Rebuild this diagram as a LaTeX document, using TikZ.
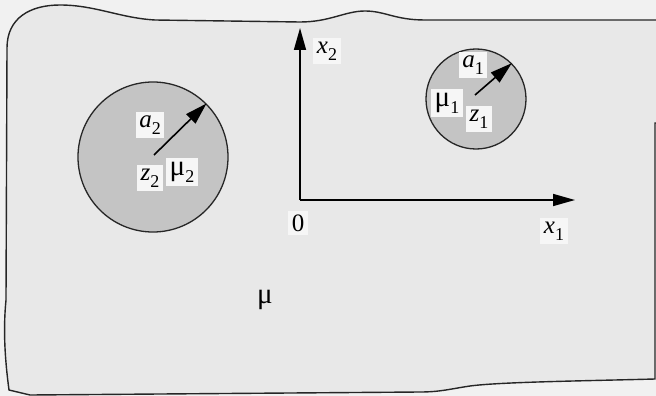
\documentclass[tikz,border=0pt]{standalone}
\usepackage{fontspec}
\setmainfont{Liberation Serif}
\usetikzlibrary{arrows.meta}
\definecolor{bgpage}{HTML}{F1F1F1}
\definecolor{bgbody}{HTML}{E8E8E8}
\definecolor{incl}{HTML}{C4C4C4}
\definecolor{labfill}{HTML}{F6F6F6}
\newcommand{\lsub}[1]{\raisebox{-0.28em}{\fontsize{18}{18}\selectfont #1}}
\newcommand{\lmu}{{\fontsize{29}{29}\selectfont μ}}
\tikzset{
  txt/.style={font=\fontsize{25}{27}\selectfont},
  lab/.style={txt, fill=labfill, inner sep=3.5pt},
  radius arrow/.style={line width=1.6pt, -{Triangle[length=22pt,width=13pt]}},
  axis arrow/.style={line width=1.6pt, -{Triangle[length=22pt,width=12pt]}},
  outline/.style={line width=1.4pt, draw=black!85},
  incl circle/.style={circle, draw=black!85, line width=1.3pt, fill=incl, inner sep=0pt},
}
\begin{document}
\begin{tikzpicture}[x=1pt,y=-1pt]
\useasboundingbox (0,0) rectangle (656,396);
\fill[bgpage] (0,0) rectangle (656,396);
% body outline
\path[outline, fill=bgbody]
  (7,48) .. controls (7,18) and (30,5) .. (60,5)
  .. controls (95,5) and (120,18) .. (155,20)
  -- (300,22)
  .. controls (330,22) and (345,11) .. (365,11)
  .. controls (385,11) and (395,20) .. (425,20)
  -- (700,20) -- (700,123) -- (655,123)
  -- (655,379)
  .. controls (580,381) and (500,382) .. (470,386)
  .. controls (450,389) and (440,392) .. (420,392)
  -- (30,395) -- (9,390)
  .. controls (5,360) and (3,330) .. (6,300)
  -- (7,48) -- cycle;
% inclusions
\node[incl circle, minimum size=150pt] (c2) at (153,157) {};
\node[incl circle, minimum size=100pt] (c1) at (476,99) {};
\coordinate (z2) at (154,155);
\coordinate (z1) at (475,95);
\draw[radius arrow] (z2) -- (c2.45);
\draw[radius arrow] (z1) -- (c1.45);
% axes
\coordinate (O) at (300,200);
\coordinate (X1) at (575,200);
\coordinate (X2) at (300,28);
\draw[axis arrow] (O) -- (X1);
\draw[axis arrow] (O) -- (X2);
% labels
\node[lab] (la2) at (150,125) {\textit{a}\lsub{2}};
\node[lab] (lz2) at (150,178) {\textit{z}\lsub{2}};
\node[lab] (lm2) at (182,172) {\lmu\lsub{2}};
\node[lab] (la1) at (473,65) {\textit{a}\lsub{1}};
\node[lab] (lm1) at (447,103) {\lmu\lsub{1}};
\node[lab] (lz1) at (479,119) {\textit{z}\lsub{1}};
\node[lab] (lx2) at (327,51) {\textit{x}\lsub{2}};
\node[lab] (lx1) at (554,231) {\textit{x}\lsub{1}};
\node[lab] (l0) at (298,223) {0};
\node[txt] (lmu) at (265,300) {\lmu};
\end{tikzpicture}
\end{document}
